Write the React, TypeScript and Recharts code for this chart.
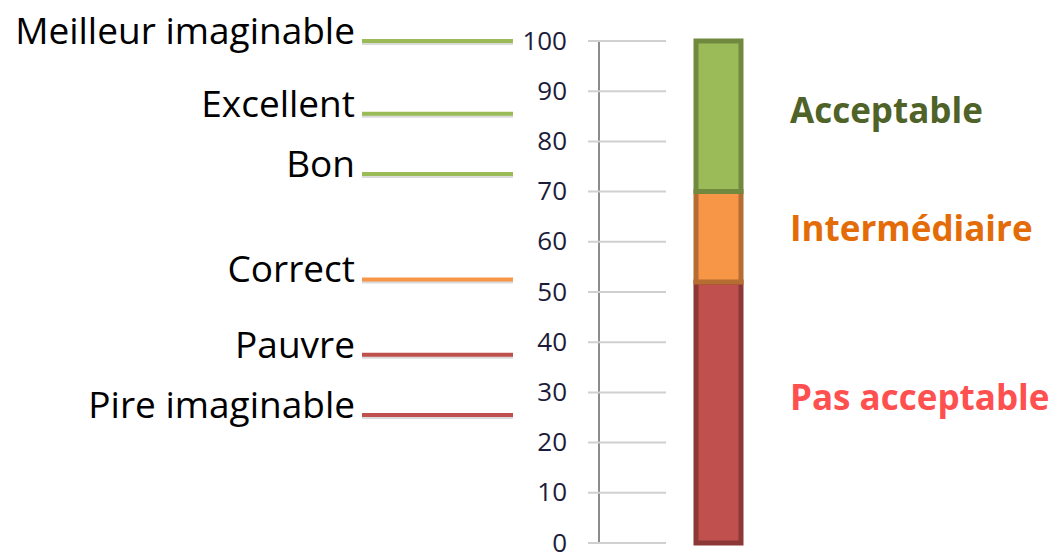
import { Bar, BarChart, LabelList, ReferenceLine, XAxis, YAxis } from "recharts";

// SUS score zones, stacked from the bottom up
const zoneKeys = ["pasAcceptable", "intermediaire", "acceptable"];
const zoneLabels = ["Pas acceptable", "Intermédiaire", "Acceptable"];
const zoneValues = [52, 18, 30];

const scoreTicks = [0, 10, 20, 30, 40, 50, 60, 70, 80, 90, 100];

const adjectiveLabels = ["Meilleur imaginable", "Excellent", "Bon", "Correct", "Pauvre", "Pire imaginable"];
const adjectiveScores = [100, 85.5, 73.5, 52.5, 37.5, 25.5];

const ZONE_FILL = ["#c0504d", "#f79646", "#9bbb59"];
const ZONE_STROKE = ["#8c3836", "#b66d31", "#71893f"];
const ZONE_TEXT = ["#ff5050", "#e36c09", "#4f6228"];
const ZONE_TEXT_DY = [-2, 4, 7];
const ADJ_COLORS = ["#9bbb59", "#9bbb59", "#9bbb59", "#f79646", "#c0504d", "#c0504d"];

const row: Record<string, string | number> = { name: "SUS" };
zoneKeys.forEach((k, i) => {
    row[k] = zoneValues[i];
});
const data = [row];

function ScoreTick({ x, y, payload }: any) {
    return (
        <g>
            <line x1={x - 11} x2={x + 67} y1={y} y2={y} stroke="#d0d0d0" strokeWidth={2} />
            <text x={x - 32} y={y} dy="0.33em" textAnchor="end" fontSize={26} fill="#1c1c3a">
                {payload.value}
            </text>
        </g>
    );
}

// line + text to the left of the axis, placed at the reference line's y
function adjectiveLabel(i: number) {
    return (props: any) => {
        const { x, y } = props.viewBox;
        return (
            <g>
                <line x1={x - 237} x2={x - 86} y1={y + 2} y2={y + 2} stroke="#999" strokeOpacity={0.35} strokeWidth={4} />
                <line x1={x - 237} x2={x - 86} y1={y} y2={y} stroke={ADJ_COLORS[i]} strokeWidth={4} />
                <text x={x - 244} y={y + 3} textAnchor="end" fontSize={37} fill="#000">
                    {adjectiveLabels[i]}
                </text>
            </g>
        );
    };
}

function zoneLabel(i: number) {
    return (props: any) => {
        const { x, y, width, height } = props;
        return (
            <text
                x={x + width + 49}
                y={y + height / 2 + ZONE_TEXT_DY[i]}
                fontSize={35}
                fontWeight="bold"
                fill={ZONE_TEXT[i]}
            >
                {zoneLabels[i]}
            </text>
        );
    };
}

export default function App() {
    return (
        <div style={{ position: "absolute", left: 0, top: 0, fontFamily: "'Open Sans', sans-serif" }}>
            <BarChart width={1053} height={555} data={data} margin={{ top: 41, right: 216, bottom: 12, left: 549 }}>
                <XAxis dataKey="name" hide />
                <YAxis
                    domain={[0, 100]}
                    ticks={scoreTicks}
                    interval={0}
                    width={50}
                    tickSize={0}
                    tickMargin={0}
                    tickLine={false}
                    axisLine={{ stroke: "#8c8c8c", strokeWidth: 2 }}
                    tick={<ScoreTick />}
                />
                {adjectiveScores.map((s, i) => (
                    <ReferenceLine key={adjectiveLabels[i]} y={s} stroke="none" label={adjectiveLabel(i)} />
                ))}
                {zoneKeys.map((k, i) => (
                    <Bar
                        key={k}
                        dataKey={k}
                        stackId="sus"
                        barSize={45}
                        fill={ZONE_FILL[i]}
                        stroke={ZONE_STROKE[i]}
                        strokeWidth={5}
                        isAnimationActive={false}
                    >
                        <LabelList dataKey={k} content={zoneLabel(i)} />
                    </Bar>
                ))}
            </BarChart>
        </div>
    );
}
